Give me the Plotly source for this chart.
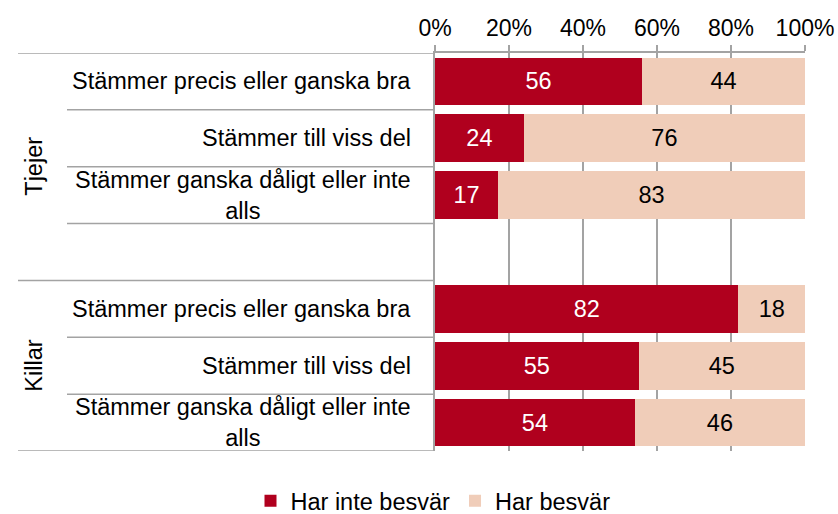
import plotly.graph_objects as go

# ---- data ----
groups = ["Tjejer", "Killar"]
categories = [
    "Stämmer precis eller ganska bra",
    "Stämmer till viss del",
    "Stämmer ganska dåligt eller inte<br>alls",
]
series_names = ["Har inte besvär", "Har besvär"]
tjejer_inte_besvar = [56, 24, 17]
tjejer_besvar = [44, 76, 83]
killar_inte_besvar = [82, 55, 54]
killar_besvar = [18, 45, 46]
x_tickvals = [0, 20, 40, 60, 80, 100]
x_ticktext = ["0%", "20%", "40%", "60%", "80%", "100%"]

# ---- style ----
RED = "#B0001E"
LIGHT = "#F0CDB9"
GRID = "#A3A3A3"
FONT = "Liberation Sans, Arial, sans-serif"
FS = 23.5

# row positions: Tjejer rows, one empty spacer row, Killar rows
n = len(categories)
tj_rows = list(range(n))
ki_rows = [n + 1 + i for i in range(n)]
total_rows = n * 2 + 1

rows = tj_rows + ki_rows
inte = tjejer_inte_besvar + killar_inte_besvar
besv = tjejer_besvar + killar_besvar

fig = go.Figure()
fig.add_trace(go.Bar(
    y=rows, x=inte, orientation="h", name=series_names[0],
    marker=dict(color=RED, line=dict(width=0)),
    text=[str(v) for v in inte], textposition="inside",
    insidetextanchor="middle",
    textfont=dict(color="white", size=FS, family=FONT),
    width=0.84,
))
fig.add_trace(go.Bar(
    y=rows, x=besv, orientation="h", name=series_names[1],
    marker=dict(color=LIGHT, line=dict(width=0)),
    text=[str(v) for v in besv], textposition="inside",
    insidetextanchor="middle",
    textfont=dict(color="black", size=FS, family=FONT),
    width=0.84,
))

W, H = 838, 514
L, R, T, B = 435, 33, 53, 63
plot_w = W - L - R
plot_h = H - T - B

def px_to_paper(px):
    return (px - L) / plot_w

shapes = []
# divider lines on left
group_bounds = [-0.5, tj_rows[-1] + 1.5, ki_rows[-1] + 0.5]
inner_bounds = [r + 0.5 for r in tj_rows] + [r + 0.5 for r in ki_rows[:-1]]
for yb in group_bounds:
    shapes.append(dict(type="line", xref="paper", yref="y",
                       x0=px_to_paper(18), x1=0, y0=yb, y1=yb,
                       line=dict(color=GRID, width=1.5)))
for yb in inner_bounds:
    shapes.append(dict(type="line", xref="paper", yref="y",
                       x0=px_to_paper(67), x1=0, y0=yb, y1=yb,
                       line=dict(color=GRID, width=1.5)))

annotations = []
for rset in (tj_rows, ki_rows):
    for r, cat in zip(rset, categories):
        annotations.append(dict(
            x=px_to_paper(413), y=r, xref="paper", yref="y",
            text=cat, showarrow=False, xanchor="right", yanchor="middle",
            align="center", font=dict(size=FS, family=FONT, color="black"),
        ))
group_centers = [(group_bounds[0] + group_bounds[1]) / 2,
                 (group_bounds[1] + group_bounds[2]) / 2]
for g, yc in zip(groups, group_centers):
    annotations.append(dict(
        x=px_to_paper(34), y=yc, xref="paper", yref="y",
        text=g, showarrow=False, textangle=-90, xanchor="center",
        yanchor="middle", font=dict(size=FS, family=FONT, color="black"),
    ))

fig.update_layout(
    width=W, height=H,
    margin=dict(l=L, r=R, t=T, b=B, autoexpand=False),
    barmode="stack",
    plot_bgcolor="white", paper_bgcolor="white",
    font=dict(family=FONT, size=FS, color="black"),
    xaxis=dict(
        range=[0, 100], side="top", tickvals=x_tickvals, ticktext=x_ticktext,
        ticks="outside", ticklen=6, tickcolor=GRID, tickwidth=1.5,
        showgrid=True, gridcolor=GRID, gridwidth=1.5,
        showline=True, linecolor=GRID, linewidth=1.5,
        zeroline=False, tickfont=dict(size=23, family=FONT),
        fixedrange=True, automargin=False,
    ),
    yaxis=dict(
        range=[total_rows - 0.5, -0.5], showticklabels=False,
        showgrid=False, zeroline=False, showline=True,
        linecolor=GRID, linewidth=1.5, fixedrange=True, automargin=False,
    ),
    shapes=shapes,
    annotations=annotations,
    showlegend=True,
    legend=dict(
        orientation="h", xref="paper", yref="paper",
        x=px_to_paper(433), xanchor="center",
        y=-50 / plot_h, yanchor="middle",
        font=dict(size=FS, family=FONT), traceorder="normal",
        itemwidth=30,
    ),
)

fig.write_html(
    "out.html",
    config={"displayModeBar": False},
    post_script="document.body.style.margin='0';document.body.style.overflow='hidden';",
)
